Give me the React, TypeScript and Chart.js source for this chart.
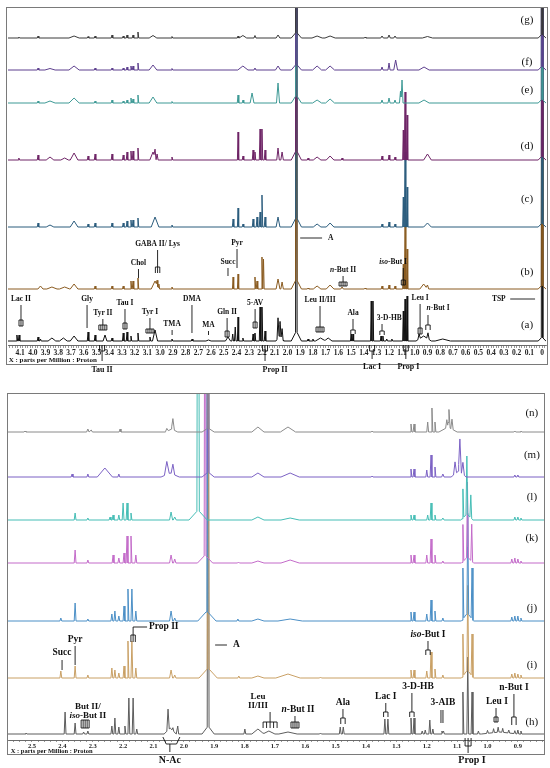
import React, { useEffect, useRef } from 'react';
import { Chart, registerables } from 'chart.js';

Chart.register(...registerables);

type Peak = [number, number, number]; // [ppm, height, half-width (ppm)]

// ---------------- tick labels ----------------
const TOP_TICK_LABELS = ['4.1','4.0','3.9','3.8','3.7','3.6','3.5','3.4','3.3','3.2','3.1','3.0','2.9','2.8','2.7','2.6','2.5','2.4','2.3','2.2','2.1','2.0','1.9','1.8','1.7','1.6','1.5','1.4','1.3','1.2','1.1','1.0','0.9','0.8','0.7','0.6','0.5','0.4','0.3','0.2','0.1','0'];
const BOTTOM_TICK_LABELS = ['2.5','2.4','2.3','2.2','2.1','2.0','1.9','1.8','1.7','1.6','1.5','1.4','1.3','1.2','1.1','1.0','0.9'];

// ---------------- spectrum names ----------------
const TOP_NAMES = ['(g)','(f)','(e)','(d)','(c)','(b)','(a)'];
const BOTTOM_NAMES = ['(n)','(m)','(l)','(k)','(j)','(i)','(h)'];

// ---------------- top panel peaks ----------------
const TOP_G: Peak[] = [[4.11,1,.006],[3.959,2,.006],[3.676,2,.04],[3.566,1.5,.006],[3.511,2,.006],[3.378,3,.006],[3.29,2,.006],[3.26,3,.006],[3.213,3,.006],[3.174,6,.006],[3.056,2.5,.03],[2.907,1.5,.006],[2.388,2,.006],[2.35,2.5,.03],[2.255,2.5,.008],[2.074,3,.015],[1.93,600,.006],[1.93,6,.04],[1.767,2,.04],[1.665,2,.04],[1.39,1,.006],[1.257,2,.01],[1.202,3,.01],[1.155,2,.01],[0.9,1.5,.04],[0,600,.006],[0,4,.03]];
const TOP_F: Peak[] = [[3.959,2,.006],[3.865,1.5,.04],[3.676,4,.04],[3.511,2,.006],[3.378,2,.006],[3.29,2,.006],[3.26,3,.006],[3.229,4,.006],[3.213,4,.006],[3.174,7,.006],[3.056,5,.03],[2.907,1.5,.006],[2.35,4,.04],[2.255,2,.008],[2.074,4,.02],[1.93,600,.006],[1.93,6,.04],[1.767,4,.035],[1.665,4,.035],[1.257,3,.008],[1.202,7,.008],[1.15,10,.015],[0.927,3,.04],[0,600,.006],[0,4,.03]];
const TOP_E: Peak[] = [[3.959,2,.006],[3.865,2,.04],[3.676,5,.04],[3.511,2,.006],[3.378,3,.006],[3.29,2,.006],[3.26,3,.006],[3.229,5,.006],[3.213,4,.006],[3.174,8,.006],[3.056,6,.03],[2.907,1.5,.006],[2.388,8,.006],[2.349,3,.006],[2.278,10,.015],[2.074,20,.012],[1.93,600,.006],[1.93,8,.04],[1.767,3,.035],[1.665,4,.035],[1.257,3,.008],[1.202,5,.008],[1.155,3,.008],[1.112,12,.008],[1.1,23,.008],[0.927,3,.04],[0,600,.006],[0,4,.03]];
const TOP_D: Peak[] = [[4.11,2,.006],[3.959,5,.006],[3.865,3,.03],[3.75,2,.03],[3.676,7,.03],[3.566,4,.006],[3.511,6,.006],[3.378,6,.006],[3.29,5,.006],[3.26,8,.006],[3.229,9,.006],[3.213,9,.006],[3.174,12,.006],[3.056,8,.025],[3.04,8,.008],[3.024,6,.008],[2.907,3,.006],[2.388,28,.005],[2.349,4,.006],[2.27,10,.006],[2.255,8,.006],[2.215,31,.006],[2.2,31,.006],[2.176,10,.006],[2.074,12,.01],[2.042,8,.01],[1.93,600,.006],[1.93,10,.04],[1.838,2,.006],[1.767,3,.03],[1.665,4,.03],[1.571,2,.006],[1.257,4,.006],[1.202,5,.006],[1.155,3,.006],[1.09,30,.005],[1.076,68,.006],[1.06,45,.005],[0.9,6,.03],[0,600,.006],[0,4,.03]];
const TOP_C: Peak[] = [[3.959,4,.006],[3.865,2,.03],[3.676,6,.03],[3.566,3,.006],[3.511,4,.006],[3.378,4,.006],[3.29,4,.006],[3.26,6,.006],[3.229,7,.006],[3.213,7,.006],[3.174,9,.006],[3.04,10,.03],[2.907,2,.006],[2.427,8,.006],[2.388,19,.005],[2.349,3,.006],[2.27,8,.006],[2.239,10,.006],[2.215,15,.006],[2.2,32,.006],[2.176,10,.006],[2.074,10,.015],[1.93,600,.006],[1.93,10,.04],[1.767,3,.03],[1.665,4,.03],[1.257,3,.006],[1.202,5,.006],[1.155,3,.006],[1.09,30,.005],[1.076,75,.006],[1.06,40,.005],[0.9,4,.03],[0,600,.006],[0,4,.03]];
const TOP_B: Peak[] = [[3.94,3,.02],[3.85,2,.04],[3.75,2,.04],[3.676,5,.03],[3.511,3,.006],[3.378,3,.006],[3.29,3,.006],[3.229,8,.006],[3.213,8,.006],[3.174,11,.006],[3.04,8,.03],[3.024,5,.006],[3.01,5,.006],[2.907,2,.006],[2.427,12,.005],[2.388,15,.005],[2.255,12,.006],[2.239,8,.006],[2.2,32,.006],[2.188,30,.005],[2.074,10,.015],[2.042,7,.01],[1.93,600,.006],[1.93,10,.04],[1.838,1,.006],[1.767,3,.03],[1.665,4,.03],[1.571,2,.01],[1.39,1,.006],[1.257,3,.006],[1.202,4,.006],[1.155,3,.006],[1.09,25,.005],[1.076,63,.006],[1.06,40,.005],[0.93,5,.03],[0.9,4,.01],[0,600,.006],[0,4,.03]];
const TOP_A: Peak[] = [[4.125,6,.006],[4.108,6,.006],[3.959,4,.006],[3.94,2,.006],[3.85,3,.03],[3.76,3,.03],[3.676,5,.03],[3.566,9,.006],[3.511,6,.006],[3.433,6,.015],[3.378,3,.006],[3.29,8,.006],[3.26,9,.006],[3.229,5,.006],[3.174,8,.006],[3.08,4,.006],[3.04,11,.02],[2.907,2,.006],[2.749,2,.006],[2.62,1,.02],[2.467,4,.02],[2.43,7,.006],[2.41,14,.006],[2.388,24,.005],[2.35,3,.006],[2.27,7,.006],[2.255,8,.006],[2.215,34,.006],[2.2,34,.006],[2.176,10,.006],[2.074,20,.008],[2.058,14,.008],[2.042,10,.008],[2.06,6,.03],[1.93,600,.006],[1.93,10,.04],[1.838,2,.006],[1.8,2,.006],[1.74,3,.04],[1.68,3,.03],[1.5,7,.005],[1.485,7,.005],[1.342,40,.005],[1.328,40,.005],[1.265,5,.005],[1.25,5,.005],[1.22,2,.006],[1.18,2,.006],[1.09,30,.005],[1.076,42,.006],[1.06,45,.005],[0.966,5,.01],[0.896,6,.01],[0.93,5,.06],[0.78,2,.06],[0,600,.006],[0,4,.03]];

// ---------------- bottom panel peaks ----------------
const BOT_N: Peak[] = [[2.523,1,.003],[2.316,3,.004],[2.305,2,.004],[2.21,3,.003],[2.056,3,.005],[2.036,11,.005],[2.04,3,.02],[1.92,600,.003],[1.92,4,.02],[1.756,5,.02],[1.657,5,.025],[1.38,1,.003],[1.252,8,.003],[1.242,8,.003],[1.197,10,.003],[1.183,24,.003],[1.173,10,.003],[1.134,8,.004],[1.127,18,.004],[1.117,10,.004],[1.13,5,.03],[0.91,1,.003],[0.89,1,.003]];
const BOT_M: Peak[] = [[2.368,3,.003],[2.316,3,.003],[2.26,9,.025],[2.214,3,.003],[2.056,13,.008],[2.036,10,.006],[2.045,4,.03],[1.92,600,.003],[1.92,5,.02],[1.756,4,.02],[1.65,4,.03],[1.38,1,.003],[1.252,8,.003],[1.242,8,.003],[1.2,7,.003],[1.186,22,.003],[1.173,10,.003],[1.147,3,.004],[1.107,12,.005],[1.091,33,.005],[1.081,12,.005],[1.095,6,.025],[0.91,2,.003],[0.9,2,.003]];
const BOT_L: Peak[] = [[2.358,7,.003],[2.316,2,.003],[2.243,3,.003],[2.233,5,.003],[2.214,5,.003],[2.2,17,.003],[2.187,17,.003],[2.174,7,.003],[2.042,8,.005],[2.03,3,.005],[1.953,600,.004],[1.953,10,.03],[1.756,3,.02],[1.65,2,.03],[1.252,5,.003],[1.242,5,.003],[1.197,5,.003],[1.186,17,.003],[1.173,5,.003],[1.147,2,.004],[1.081,29,.003],[1.068,58,.003],[1.055,23,.003],[1.068,6,.02],[0.91,3,.003],[0.9,3,.003],[0.89,2,.003]];
const BOT_K: Peak[] = [[2.358,13,.003],[2.316,3,.003],[2.233,8,.003],[2.214,5,.003],[2.197,10,.003],[2.187,27,.003],[2.174,27,.003],[2.158,8,.003],[2.042,8,.005],[2.03,4,.004],[1.93,600,.003],[1.93,8,.025],[1.82,1,.003],[1.756,2,.02],[1.65,3,.03],[1.252,8,.003],[1.242,8,.003],[1.2,8,.003],[1.186,24,.003],[1.173,8,.003],[1.147,2,.003],[1.081,37,.003],[1.066,75,.003],[1.052,37,.003],[1.066,6,.02],[0.92,4,.003],[0.91,5,.003],[0.9,4,.003],[0.89,2,.003]];
const BOT_J: Peak[] = [[2.405,3,.003],[2.358,18,.003],[2.316,2,.003],[2.237,7,.003],[2.227,10,.003],[2.214,5,.003],[2.197,15,.003],[2.184,32,.003],[2.171,32,.003],[2.158,10,.003],[2.042,10,.005],[2.03,3,.004],[1.924,600,.003],[1.924,10,.03],[1.822,2,.003],[1.756,2,.02],[1.65,2,.04],[1.252,9,.003],[1.242,9,.003],[1.2,7,.003],[1.186,21,.003],[1.173,10,.003],[1.147,3,.003],[1.081,51,.003],[1.065,100,.003],[1.051,51,.003],[1.066,8,.02],[0.92,4,.003],[0.91,5,.003],[0.9,5,.003],[0.89,3,.003]];
const BOT_I: Peak[] = [[2.405,7,.003],[2.358,12,.003],[2.316,3,.003],[2.237,10,.003],[2.227,8,.003],[2.214,5,.003],[2.197,12,.003],[2.184,37,.003],[2.171,37,.003],[2.158,10,.003],[2.042,8,.005],[2.03,3,.004],[1.92,600,.003],[1.92,10,.03],[1.819,2,.003],[1.756,2,.02],[1.657,4,.04],[1.55,1,.003],[1.252,8,.003],[1.242,8,.003],[1.2,7,.003],[1.186,26,.003],[1.173,9,.003],[1.147,3,.003],[1.081,42,.003],[1.065,85,.003],[1.051,42,.003],[1.066,8,.02],[0.92,4,.003],[0.91,5,.003],[0.9,4,.003],[0.89,3,.003]];
const BOT_H: Peak[] = [[2.52,1,.003],[2.391,22,.003],[2.358,11,.003],[2.33,2,.003],[2.316,3,.003],[2.237,8,.003],[2.227,16,.003],[2.214,7,.003],[2.194,8,.003],[2.181,36,.003],[2.167,36,.003],[2.155,5,.003],[2.052,21,.004],[2.045,6,.02],[2.036,3,.003],[2.02,8,.003],[1.92,600,.003],[1.92,8,.02],[1.799,5,.003],[1.756,5,.02],[1.72,3,.02],[1.657,2,.03],[1.55,1,.003],[1.485,7,.003],[1.475,7,.003],[1.338,15,.003],[1.328,15,.003],[1.252,16,.003],[1.242,16,.003],[1.215,3,.003],[1.205,4,.003],[1.19,14,.003],[1.18,5,.003],[1.15,3,.003],[1.145,3,.003],[1.081,42,.003],[1.065,77,.003],[1.051,42,.003],[1.03,3,.003],[1.0,3,.003],[0.98,4,.003],[0.965,5,.003],[0.95,4,.003],[0.93,3,.003],[0.91,3,.003],[0.9,4,.003],[0.89,3,.003],[0.96,2,.06]];

// ---------------- layout / style ----------------
const SERIF = '"Liberation Serif", "Times New Roman", serif';

type Ann =
  | { kind?: 'label'; t: string; x: number; y?: number; size?: number; align?: 'left' | 'center'; lx?: number; l1?: number; l2?: number; mark?: string; mh?: number; mw?: number }
  | { kind: 'hline'; x1: number; x2: number; y: number }
  | { kind: 'poly'; pts: [number, number][] }
  | { kind: 'tri'; x: number; top: number; bar: number; bottom: number; legs: number; spread: number };

const TOP_ANN: Ann[] = [
  { t: 'Lac II', x: 4.093, y: 46, l1: 40, l2: 25, mark: 'box', mh: 6 },
  { t: 'Gly', x: 3.574, y: 46, l1: 40, l2: 17 },
  { t: 'Tyr II', x: 3.45, y: 32, l1: 26, l2: 20, mark: 'hbox', mh: 5 },
  { t: 'Tau I', x: 3.276, y: 42, l1: 36, l2: 22, mark: 'box', mh: 6 },
  { t: 'Tyr I', x: 3.08, y: 33, l1: 27, l2: 16, mark: 'hbox', mh: 4 },
  { t: 'TMA', x: 2.906, y: 21, l1: 15, l2: 10 },
  { t: 'DMA', x: 2.75, y: 46, l1: 40, l2: 12 },
  { t: 'MA', x: 2.62, y: 20, l1: 14, l2: 10 },
  { t: 'Gln II', x: 2.474, y: 33, l1: 27, l2: 14, mark: 'box', mh: 6 },
  { t: '5-AV', x: 2.254, y: 42, l1: 36, l2: 23, mark: 'box', mh: 6 },
  { t: 'Chol', x: 3.17, y: 82, l1: 76, l2: 67 },
  { t: 'GABA II/ Lys', x: 3.02, y: 101, l1: 95, l2: 78, mark: 'fork3', mh: 6 },
  { t: 'Succ', x: 2.467, y: 83, l1: 77, l2: 69 },
  { t: 'Pyr', x: 2.396, y: 102, l1: 96, l2: 77 },
  { t: '*n*-But II', x: 1.563, y: 75, l1: 69, l2: 63, mark: 'hbox', mh: 4 },
  { t: '*iso*-But I', x: 1.17, y: 83, lx: 1.09, l1: 77, l2: 65, mark: 'box', mh: 5 },
  { t: 'Leu II/III', x: 1.744, y: 45, l1: 39, l2: 18, mark: 'hbox', mh: 5 },
  { t: 'Ala', x: 1.485, y: 32, l1: 26, l2: 15, mark: 'fork2', mh: 4 },
  { t: '3-D-HB', x: 1.2, y: 27, lx: 1.257, l1: 21, l2: 14, mark: 'fork2', mh: 4 },
  { t: 'Leu I', x: 0.958, y: 47, l1: 41, l2: 17, mark: 'box', mh: 6 },
  { t: '*n*-But I', x: 0.817, y: 37, lx: 0.896, l1: 30, l2: 20, mark: 'fork2', mh: 5 },
  { t: 'TSP', x: 0.34, y: 46 },
  { kind: 'hline', x1: 0.25, x2: 0.055, y: 46 },
  { t: 'A', x: 1.681, y: 107, align: 'left' },
  { kind: 'hline', x1: 1.9, x2: 1.728, y: 107 },
  { kind: 'tri', x: 3.456, top: 0, bar: -6, bottom: -16, legs: 3, spread: 2.5 },
  { t: 'Tau II', x: 3.456, y: -25, size: 8 },
  { kind: 'tri', x: 2.176, top: 0, bar: -6, bottom: -16, legs: 3, spread: 2.5 },
  { t: 'Prop II', x: 2.097, y: -25, size: 8 },
  { kind: 'tri', x: 1.335, top: 0, bar: -6, bottom: -14, legs: 2, spread: 5 },
  { t: 'Lac I', x: 1.335, y: -22, size: 8 },
  { kind: 'tri', x: 1.07, top: 0, bar: -6, bottom: -14, legs: 3, spread: 2.5 },
  { t: 'Prop I', x: 1.05, y: -22, size: 8 },
  { t: 'X : parts per Million : Proton', x: 4.19, y: -15, size: 7, align: 'left' },
];

const BOTTOM_ANN: Ann[] = [
  { t: 'Succ', x: 2.401, y: 87, l1: 80, l2: 70 },
  { t: 'Pyr', x: 2.358, y: 100, l1: 94, l2: 75 },
  { t: 'Prop II', x: 2.115, y: 113, align: 'left' },
  { kind: 'hline', x1: 2.167, x2: 2.121, y: 113 },
  { t: '', x: 2.167, l1: 113, l2: 105, mark: 'fork3', mh: 7 },
  { t: 'A', x: 1.838, y: 95, align: 'left' },
  { kind: 'hline', x1: 1.897, x2: 1.858, y: 95 },
  { t: 'But II/\n*iso*-But II', x: 2.316, y: 33, size: 9, lx: 2.325, l1: 20, l2: 20, mark: 'hbox', mh: 8 },
  { t: 'Leu\nII/III', x: 1.756, y: 43, size: 9, lx: 1.716, l1: 28, l2: 18, mark: 'comb', mh: 6, mw: 14 },
  { t: '*n*-But II', x: 1.624, y: 30, lx: 1.634, l1: 24, l2: 18, mark: 'hbox', mh: 6 },
  { t: 'Ala', x: 1.476, y: 37, l1: 31, l2: 22, mark: 'fork2', mh: 6 },
  { t: 'Lac I', x: 1.335, y: 43, l1: 37, l2: 28, mark: 'fork2', mh: 5 },
  { t: '3-D-HB', x: 1.229, y: 53, lx: 1.249, l1: 47, l2: 28, mark: 'fork2', mh: 5 },
  { t: '3-AIB', x: 1.147, y: 37, lx: 1.15, l1: 30, l2: 17, mark: 'dline' },
  { t: '*iso*-But I', x: 1.196, y: 105, l1: 99, l2: 90, mark: 'fork2', mh: 5 },
  { t: 'Leu I', x: 0.969, y: 38, lx: 0.972, l1: 32, l2: 23, mark: 'box', mh: 5 },
  { t: 'n-But I', x: 0.913, y: 52, l1: 46, l2: 23, mark: 'fork2', mh: 8 },
  { kind: 'poly', pts: [[2.069, 3], [2.058, -4], [2.024, -4], [2.013, 3]] },
  { kind: 'poly', pts: [[2.046, -4], [2.046, -12]] },
  { t: 'N-Ac', x: 2.046, y: -20, size: 10 },
  { kind: 'tri', x: 1.064, top: 2, bar: -6, bottom: -13, legs: 3, spread: 3 },
  { t: 'Prop I', x: 1.051, y: -20, size: 10 },
  { t: 'X : parts per Million : Proton', x: 2.57, y: -11, size: 6.5, align: 'left' },
];

const TOP_CFG = {
  series: [TOP_G, TOP_F, TOP_E, TOP_D, TOP_C, TOP_B, TOP_A],
  names: TOP_NAMES,
  offsets: [307, 275, 242, 185, 118, 56, 4],
  nameY: [325, 283, 255, 199, 146, 73, 20],
  nameX: 0.118,
  colors: ['#3a3a3a', '#5d3f8e', '#3d9995', '#6e2466', '#2b5c7d', '#8a5b20', '#111111'],
  xMin: -0.031, xMax: 4.195, yMax: 337, minor: 0.02,
  tickLabels: TOP_TICK_LABELS, tickSize: 7.5, tickLen: 3, tickPad: 1,
  padding: { left: 8, right: 4, top: 8, bottom: 20 }, axisH: 19,
  frame: [6.5, 7.5, 541, 357] as [number, number, number, number],
  ann: TOP_ANN, annSize: 7.5,
};

const BOTTOM_CFG = {
  series: [BOT_N, BOT_M, BOT_L, BOT_K, BOT_J, BOT_I, BOT_H],
  names: BOTTOM_NAMES,
  offsets: [308, 263, 220, 177, 119, 62, 6],
  nameY: [327, 285, 243, 202, 132, 75, 18],
  nameX: 0.854,
  colors: ['#8a8a8a', '#7b61c4', '#45bdb5', '#c36bc9', '#4b8fc6', '#c9a065', '#5c5c5c'],
  xMin: 0.814, xMax: 2.579, yMax: 346, minor: 0.02,
  tickLabels: BOTTOM_TICK_LABELS, tickSize: 6.5, tickLen: 2, tickPad: 0,
  padding: { left: 8, right: 6, top: 10, bottom: 9 }, axisH: 19,
  frame: [7.5, 9.5, 537, 361] as [number, number, number, number],
  ann: BOTTOM_ANN, annSize: 9.5,
};

// ---------------- helpers ----------------
function buildTrace(peaks: Peak[], lo: number, hi: number, base: number) {
  const xs: number[] = [lo, hi];
  for (const [p, , w] of peaks) xs.push(p - w, p, p + w);
  const uniq = Array.from(new Set(xs.map((v) => Math.round(v * 1e5) / 1e5)))
    .filter((v) => v >= lo && v <= hi)
    .sort((a, b) => b - a);
  return uniq.map((v) => ({
    x: v,
    y: base + peaks.reduce((s, [p, h, w]) => s + Math.max(0, h * (1 - Math.abs(v - p) / w)), 0),
  }));
}

function drawRich(ctx: CanvasRenderingContext2D, text: string, cx: number, cy: number, size: number, align: string, weight: string) {
  const parts = text.split('*');
  const fonts = parts.map((_, i) => `${i % 2 ? 'italic ' : ''}${weight} ${size}px ${SERIF}`);
  const widths = parts.map((p, i) => { ctx.font = fonts[i]; return ctx.measureText(p).width; });
  const total = widths.reduce((a, b) => a + b, 0);
  let xx = align === 'left' ? cx : cx - total / 2;
  ctx.textBaseline = 'middle';
  ctx.textAlign = 'left';
  parts.forEach((p, i) => { ctx.font = fonts[i]; ctx.fillText(p, xx, cy); xx += widths[i]; });
}

function drawMark(ctx: CanvasRenderingContext2D, type: string, px: number, py: number, mh: number, mw: number) {
  ctx.beginPath();
  if (type === 'box') {
    ctx.rect(px - 2, py, 4, mh);
    ctx.moveTo(px, py); ctx.lineTo(px, py + mh);
  } else if (type === 'hbox') {
    ctx.rect(px - 4, py, 8, mh);
    for (const dx of [-2, 0, 2]) { ctx.moveTo(px + dx, py); ctx.lineTo(px + dx, py + mh); }
  } else if (type === 'fork2' || type === 'fork3') {
    ctx.moveTo(px - 2.2, py + mh); ctx.lineTo(px - 2.2, py); ctx.lineTo(px + 2.2, py); ctx.lineTo(px + 2.2, py + mh);
    if (type === 'fork3') { ctx.moveTo(px, py); ctx.lineTo(px, py + mh); }
  } else if (type === 'comb') {
    const n = 5;
    ctx.moveTo(px - mw / 2, py); ctx.lineTo(px + mw / 2, py);
    for (let i = 0; i < n; i++) { const xx = px - mw / 2 + (i * mw) / (n - 1); ctx.moveTo(xx, py); ctx.lineTo(xx, py + mh); }
  }
  ctx.stroke();
}

function makeAnnPlugin(cfg: typeof TOP_CFG) {
  return {
    id: 'annotations',
    afterDraw(chart: any) {
      const ctx: CanvasRenderingContext2D = chart.ctx;
      const xs = chart.scales.x, ys = chart.scales.y;
      const X = (v: number) => xs.getPixelForValue(v);
      const Y = (v: number) => ys.getPixelForValue(v);
      ctx.save();
      ctx.strokeStyle = '#111';
      ctx.fillStyle = '#111';
      ctx.lineWidth = 0.9;
      ctx.save();
      ctx.strokeStyle = '#7a7a7a';
      ctx.lineWidth = 1;
      const [fx, fy, fw, fh] = cfg.frame;
      ctx.strokeRect(fx, fy, fw, fh);
      ctx.restore();
      cfg.names.forEach((n, i) => drawRich(ctx, n, X(cfg.nameX), Y(cfg.nameY[i]), 11, 'center', 'normal'));
      for (const a of cfg.ann) {
        if (a.kind === 'hline') {
          ctx.beginPath(); ctx.moveTo(X(a.x1), Y(a.y)); ctx.lineTo(X(a.x2), Y(a.y)); ctx.stroke();
        } else if (a.kind === 'poly') {
          ctx.beginPath();
          a.pts.forEach(([px, py], i) => (i ? ctx.lineTo(X(px), Y(py)) : ctx.moveTo(X(px), Y(py))));
          ctx.stroke();
        } else if (a.kind === 'tri') {
          const px = X(a.x), yt = Y(a.top), yb = Y(a.bar), ye = Y(a.bottom);
          const half = ((a.legs - 1) * a.spread) / 2;
          ctx.beginPath();
          for (let i = 0; i < a.legs; i++) { const xx = px - half + i * a.spread; ctx.moveTo(xx, yt); ctx.lineTo(xx, yb); }
          ctx.moveTo(px - half, yb); ctx.lineTo(px + half, yb);
          ctx.moveTo(px, yb); ctx.lineTo(px, ye);
          ctx.stroke();
        } else {
          const size = a.size ?? cfg.annSize;
          if (a.t) {
            const lines = a.t.split('\n');
            lines.forEach((ln, i) => drawRich(ctx, ln, X(a.x), Y(a.y as number) + i * size, size, a.align ?? 'center', 'bold'));
          }
          if (a.l1 !== undefined && a.l2 !== undefined) {
            const lpx = X(a.lx ?? a.x);
            ctx.beginPath();
            if (a.mark === 'dline') {
              for (const dx of [-1, 1]) { ctx.moveTo(lpx + dx, Y(a.l1)); ctx.lineTo(lpx + dx, Y(a.l2)); }
            } else {
              ctx.moveTo(lpx, Y(a.l1)); ctx.lineTo(lpx, Y(a.l2));
            }
            ctx.stroke();
            if (a.mark && a.mark !== 'dline') drawMark(ctx, a.mark, lpx, Y(a.l2), a.mh ?? 5, a.mw ?? 10);
          }
        }
      }
      ctx.restore();
    },
  };
}

function makeChart(canvas: HTMLCanvasElement, cfg: typeof TOP_CFG) {
  const datasets = cfg.series.map((peaks, i) => ({
    data: buildTrace(peaks, cfg.xMin, cfg.xMax, cfg.offsets[i]),
    borderColor: cfg.colors[i],
    borderWidth: 1,
    pointRadius: 0,
    fill: false,
    tension: 0,
  }));
  const tickVals: number[] = [];
  for (let k = Math.ceil(cfg.xMin / cfg.minor - 1e-9); k * cfg.minor <= cfg.xMax + 1e-9; k++) tickVals.push(+(k * cfg.minor).toFixed(4));
  const labelMap = new Map<number, string>(cfg.tickLabels.map((l) => [Math.round(parseFloat(l) * 100), l]));
  return new Chart(canvas, {
    type: 'line',
    data: { datasets } as any,
    options: {
      responsive: false,
      animation: false,
      events: [],
      layout: { padding: cfg.padding },
      plugins: { legend: { display: false }, tooltip: { enabled: false } },
      scales: {
        x: {
          type: 'linear',
          reverse: true,
          min: cfg.xMin,
          max: cfg.xMax,
          afterBuildTicks: (s: any) => { s.ticks = tickVals.map((v) => ({ value: v })); },
          afterFit: (s: any) => { s.height = cfg.axisH; },
          ticks: {
            autoSkip: false,
            maxRotation: 0,
            minRotation: 0,
            padding: cfg.tickPad,
            color: '#222',
            font: { family: SERIF, size: cfg.tickSize, weight: 'bold' },
            callback: (v: any) => {
              const n = Number(v);
              const k = Math.round(n * 100);
              const l = labelMap.get(k);
              return l !== undefined && Math.abs(n * 100 - k) < 1e-6 ? l : '';
            },
          },
          grid: { drawOnChartArea: false, drawTicks: true, tickLength: cfg.tickLen, color: '#555', lineWidth: 0.6 },
          border: { display: true, color: '#444', width: 0.8 },
        },
        y: { display: false, min: 0, max: cfg.yMax },
      },
    } as any,
    plugins: [makeAnnPlugin(cfg)],
  });
}

export default function App() {
  const topRef = useRef<HTMLCanvasElement>(null);
  const botRef = useRef<HTMLCanvasElement>(null);
  useEffect(() => {
    const c1 = makeChart(topRef.current as HTMLCanvasElement, TOP_CFG);
    const c2 = makeChart(botRef.current as HTMLCanvasElement, BOTTOM_CFG as any);
    return () => { c1.destroy(); c2.destroy(); };
  }, []);
  return (
    <div style={{ position: 'absolute', left: 0, top: 0, width: 550, height: 768, background: '#fff' }}>
      <canvas ref={topRef} width={550} height={384} style={{ position: 'absolute', left: 0, top: 0, width: 550, height: 384 }} />
      <canvas ref={botRef} width={550} height={384} style={{ position: 'absolute', left: 0, top: 384, width: 550, height: 384 }} />
    </div>
  );
}
